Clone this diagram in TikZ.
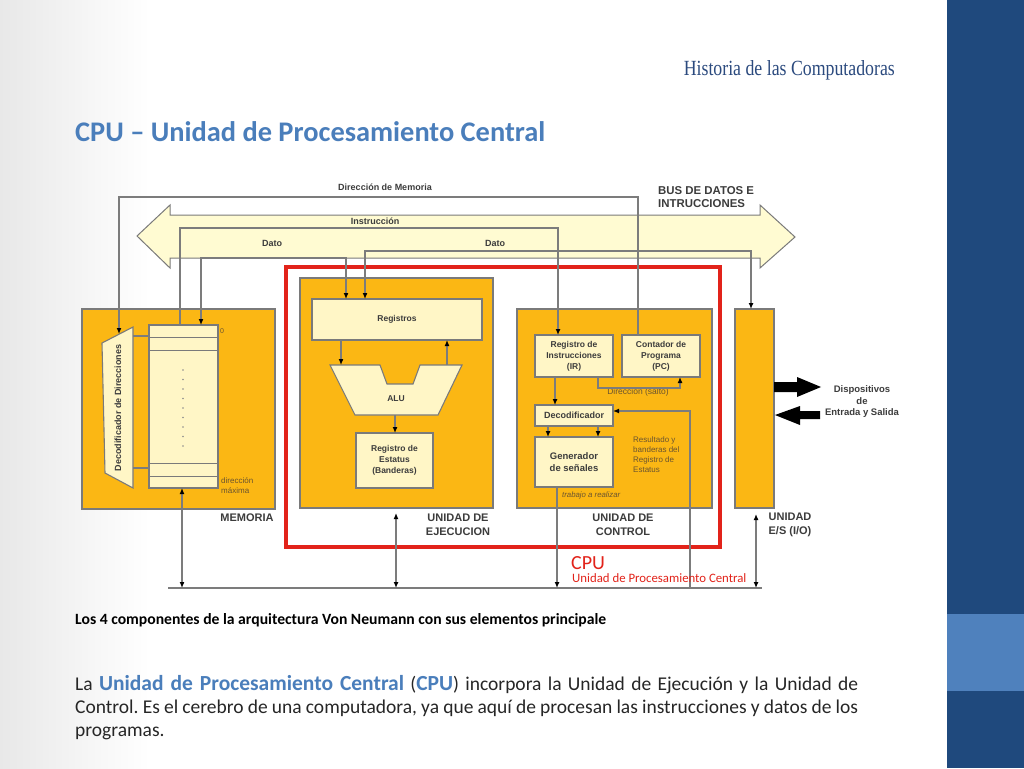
\documentclass[tikz,border=0pt]{standalone}
\usepackage{fontspec}
\setmainfont{Carlito}
\newfontfamily\dfont{Liberation Sans}
\newfontfamily\hfont{Liberation Serif}
\usetikzlibrary{arrows.meta}
\definecolor{orangeU}{HTML}{FBB714}
\definecolor{creamB}{HTML}{FFF6C6}
\definecolor{busY}{HTML}{FFFBD2}
\definecolor{edgeG}{HTML}{7A7A7A}
\definecolor{lineG}{HTML}{7C7C7C}
\definecolor{txtG}{HTML}{3C3C3C}
\definecolor{brownT}{HTML}{6A5430}
\definecolor{cpuRed}{HTML}{E2231A}
\definecolor{navy}{HTML}{1F497D}
\definecolor{lightBlue}{HTML}{4F81BD}
\definecolor{titleBlue}{HTML}{4A7EBB}
\definecolor{headBlue}{HTML}{2B4A7E}
\definecolor{bodyT}{HTML}{262626}
\frenchspacing
\begin{document}
\begin{tikzpicture}[x=1pt,y=-1pt,
  ubox/.style={draw=edgeG,fill=orangeU,line width=1.3pt,inner sep=0pt,outer sep=0pt,anchor=north west},
  ibox/.style={draw=edgeG,fill=creamB,line width=1.1pt,inner sep=0pt,outer sep=0pt,anchor=north west,align=center,text=txtG,font=\dfont\bfseries\fontsize{8.5}{11}\selectfont},
  lbl/.style={text=txtG,font=\dfont\bfseries\fontsize{9}{11}\selectfont,inner sep=0pt},
  unitlbl/.style={text=txtG,font=\dfont\bfseries\fontsize{11}{14}\selectfont,align=center,inner sep=0pt},
  smalltxt/.style={text=brownT,font=\dfont\fontsize{8}{10}\selectfont,inner sep=0pt,align=left},
  wire/.style={draw=lineG,line width=1.2pt},
  tipE/.style={-{Latex[length=6pt,width=5pt,color=black]}},
  tipB/.style={{Latex[length=6pt,width=5pt,color=black]}-{Latex[length=6pt,width=5pt,color=black]}},
]
\useasboundingbox (0,0) rectangle (1024,768);
% background
\fill[white] (0,0) rectangle (1024,768);
\shade[left color=black!9,right color=white] (0,0) rectangle (150,768);
\fill[navy] (947,0) rectangle (1024,768);
\fill[lightBlue] (947,614) rectangle (1024,691);

% header and title
\node[anchor=base east,inner sep=0pt,text=headBlue] (hdr) at (895,75) {\resizebox{211pt}{15pt}{\hfont Historia de las Computadoras}};
\node[anchor=base west,inner sep=0pt,text=titleBlue] (ttl) at (75,141) {\resizebox{470pt}{!}{\bfseries CPU – Unidad de Procesamiento Central}};

% bus arrow
\draw[draw=edgeG,fill=busY,line width=1pt] (137,236) -- (170,205) -- (170,215) -- (760,215) -- (760,205) -- (795,237) -- (760,268) -- (760,258) -- (170,258) -- (170,268) -- cycle;

% units
\node[ubox,minimum width=193pt,minimum height=200pt] (memU) at (82,309) {};
\node[ubox,minimum width=193pt,minimum height=230pt] (exeU) at (300,278) {};
\node[ubox,minimum width=195pt,minimum height=199pt] (ctrlU) at (517,309) {};
\node[ubox,minimum width=39pt,minimum height=199pt] (io) at (735,309) {};

% memory internals
\node[ibox,minimum width=69pt,minimum height=163pt] (memArr) at (149,325) {};
\foreach \yy in {337,350,463,476} \draw[edgeG,line width=1pt] (149,\yy) -- (218,\yy);
\foreach \yy in {370,379.5,389,398.5,408,417.5,427,436.5,446} \fill[black!45] (183,\yy) circle (0.8);
\draw[draw=edgeG,fill=creamB,line width=1.1pt] (102,343) -- (133,327) -- (133,488) -- (105,473) -- cycle;
\node[lbl,rotate=90,font=\dfont\bfseries\fontsize{9}{10}\selectfont] (decTxt) at (118,408) {Decodificador de Direcciones};
\coordinate (dc1) at (133,336);
\coordinate (dc2) at (133,468);
\draw[wire] (dc1) -- (memArr.west |- dc1);
\draw[wire] (dc2) -- (memArr.west |- dc2);
\node[smalltxt,font=\dfont\fontsize{7}{9}\selectfont] (zero) at (222,331) {0};
\node[smalltxt,anchor=north west] (dmax) at (221,477) {dirección\\máxima};

% execution internals
\node[ibox,minimum width=170pt,minimum height=41pt] (regs) at (312,299) {Registros};
\coordinate (aluTL) at (330,365);
\coordinate (aluTR) at (462,365);
\coordinate (aluBR) at (438,415);
\coordinate (aluBL) at (355,415);
\draw[draw=edgeG,fill=creamB,line width=1.1pt] (aluTL) -- (380,365) -- (387,384) -- (413,384) -- (420,365) -- (aluTR) -- (aluBR) -- (aluBL) -- cycle;
\node[lbl,font=\dfont\bfseries\fontsize{8.5}{10}\selectfont] (alu) at (396,399) {ALU};
\node[ibox,minimum width=77pt,minimum height=55pt] (stat) at (356,433) {Registro de\\Estatus\\(Banderas)};

% control internals
\node[ibox,minimum width=78pt,minimum height=42pt] (ir) at (535,335) {Registro de\\Instrucciones\\(IR)};
\node[ibox,minimum width=78pt,minimum height=42pt] (pc) at (622,335) {Contador de\\Programa\\(PC)};
\node[ibox,minimum width=78pt,minimum height=21pt,font=\dfont\bfseries\fontsize{9}{11}\selectfont] (decod) at (535,405) {Decodificador};
\node[ibox,minimum width=78pt,minimum height=50pt,font=\dfont\bfseries\fontsize{9.5}{12}\selectfont] (gen) at (535,437) {Generador\\de señales};
\node[smalltxt,anchor=north,font=\dfont\fontsize{8.5}{10}\selectfont] (salto) at (638,388) {Dirección (salto)};
\node[smalltxt,anchor=north west] (resul) at (633,436) {Resultado y\\banderas del\\Registro de\\Estatus};
\node[smalltxt,anchor=north west,font=\dfont\itshape\fontsize{7.8}{9}\selectfont] (trab) at (562,492) {trabajo a realizar};

% CPU red box
\node[draw=cpuRed,line width=3.6pt,minimum width=434pt,minimum height=280pt,anchor=north west,inner sep=0pt,outer sep=0pt] (cpuBox) at (286,267) {};

% wires
\coordinate (dmL) at (119,197);
\coordinate (dmR) at (638,197);
\coordinate (decTop) at (119,334);
\draw[wire,tipE] (pc.north -| dmR) -- (dmR) -- (dmL) -- (decTop);
\coordinate (inL) at (180,228);
\coordinate (inR) at (558,228);
\draw[wire,tipE] (memArr.north -| inL) -- (inL) -- (inR) -- (ir.north -| inR);
\coordinate (dlL) at (201,258);
\coordinate (dlR) at (346,258);
\draw[wire,tipB] (memArr.north -| dlL) -- (dlL) -- (dlR) -- (regs.north -| dlR);
\coordinate (drL) at (365,251);
\coordinate (drR) at (751,251);
\draw[wire,tipB] (regs.north -| drL) -- (drL) -- (drR) -- (io.north -| drR);

\coordinate (ra) at (341,365);
\draw[wire,tipE] (regs.south -| ra) -- (ra);
\coordinate (ar) at (447,365);
\draw[wire,tipE] (ar) -- (regs.south -| ar);
\coordinate (as) at (395,415);
\draw[wire,tipE] (as) -- (stat.north -| as);

\coordinate (busL) at (168,588);
\coordinate (busR) at (762,588);
\draw[wire] (busL) -- (busR);
\coordinate (mb) at (182,588);
\draw[wire,tipB] (memArr.south -| mb) -- (mb);
\coordinate (eb) at (396,588);
\draw[wire,tipB,shorten <=5pt] (exeU.south -| eb) -- (eb);
\coordinate (gb) at (557,588);
\draw[wire,tipE] (gen.south -| gb) -- (gb);
\coordinate (bd1) at (690,588);
\coordinate (bd2) at (690,411);
\draw[wire,tipE] (bd1) -- (bd2) -- (decod.east |- bd2);
\coordinate (id) at (555,390);
\draw[wire,tipE] (ir.south -| id) -- (decod.north -| id);
\coordinate (s1) at (598,388);
\coordinate (s2) at (680,388);
\draw[wire,tipE] (ir.south -| s1) -- (s1) -- (s2) -- (pc.south -| s2);
\coordinate (dg1) at (548,430);
\coordinate (dg2) at (598,430);
\draw[wire,tipE] (decod.south -| dg1) -- (gen.north -| dg1);
\draw[wire,tipE] (decod.south -| dg2) -- (gen.north -| dg2);
\coordinate (ib) at (756,588);
\draw[wire,tipB,shorten <=6pt] (io.south -| ib) -- (ib);

% I/O device arrows
\fill[black] (774,382) -- (797,382) -- (797,377) -- (821,387) -- (797,397) -- (797,392) -- (774,392) -- cycle;
\fill[black] (775,415) -- (800,406) -- (800,411) -- (820,411) -- (820,419) -- (800,419) -- (800,425) -- cycle;

% labels
\node[lbl] (lDM) at (385,187) {Dirección de Memoria};
\node[lbl] (lIn) at (375,221) {Instrucción};
\node[lbl] (lD1) at (272,243) {Dato};
\node[lbl] (lD2) at (495,243) {Dato};
\node[lbl,font=\dfont\bfseries\fontsize{11.4}{13.5}\selectfont,anchor=north west,align=left] (lBus) at (658,186) {BUS DE DATOS E\\INTRUCCIONES};
\node[unitlbl] (lMem) at (247,518) {MEMORIA};
\node[unitlbl] (lExe) at (458,525) {UNIDAD DE\\EJECUCION};
\node[unitlbl] (lCtrl) at (623,525) {UNIDAD DE\\CONTROL};
\node[unitlbl] (lIO) at (790,525) {UNIDAD\\E/S (I/O)};
\node[lbl,font=\dfont\bfseries\fontsize{9.5}{11.5}\selectfont,align=center] (lDev) at (862,402) {Dispositivos\\de\\Entrada y Salida};
\node[anchor=base west,inner sep=0pt,text=cpuRed,font=\fontsize{20}{22}\selectfont] (cpuT) at (571,569) {CPU};
\node[anchor=base west,inner sep=0pt,text=cpuRed,font=\fontsize{12.8}{14}\selectfont] (cpuSub) at (572,582) {Unidad de Procesamiento Central};

% caption and body
\node[anchor=base west,inner sep=0pt,text=black] (cap) at (75,624) {\resizebox{531pt}{!}{\bfseries Los 4 componentes de la arquitectura Von Neumann con sus elementos principale}};
\node[anchor=base west,inner sep=0pt,text=bodyT,font=\fontsize{19.5}{23}\selectfont] (body1) at (75,690) {\hbox to 783pt{La {\color{titleBlue}\bfseries\fontsize{21.5}{23}\selectfont Unidad de Procesamiento Central} ({\color{titleBlue}\bfseries\fontsize{21.5}{23}\selectfont CPU}) incorpora la Unidad de Ejecución y la Unidad de}};
\node[anchor=base west,inner sep=0pt,text=bodyT,font=\fontsize{19.5}{23}\selectfont] (body2) at (75,713) {\hbox to 783pt{Control. Es el cerebro de una computadora, ya que aquí de procesan las instrucciones y datos de los}};
\node[anchor=base west,inner sep=0pt,text=bodyT,font=\fontsize{19.5}{23}\selectfont] (body3) at (75,736) {programas.};
\end{tikzpicture}
\end{document}
